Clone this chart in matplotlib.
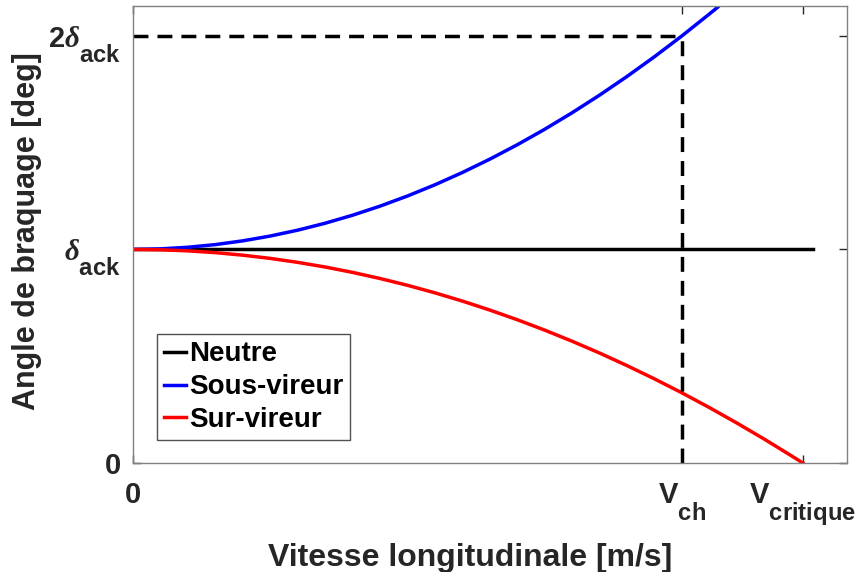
import matplotlib
matplotlib.use('Agg')
import matplotlib.pyplot as plt
import matplotlib._mathtext as mtext

plt.rcParams['font.family'] = ['Liberation Sans', 'DejaVu Sans']
plt.rcParams['font.weight'] = 'bold'
plt.rcParams['mathtext.fontset'] = 'custom'
plt.rcParams['mathtext.rm'] = 'Liberation Sans:bold'
plt.rcParams['mathtext.bf'] = 'Liberation Sans:bold'
plt.rcParams['mathtext.it'] = 'Liberation Serif:italic'
# bigger and lower subscripts, like the matlab tex labels
mtext.SHRINK_FACTOR = 0.82
mtext.FontConstantsBase.sub1 = 1.1
mtext.FontConstantsBase.subdrop = 1.1

# data (speed in m/s, angle in units of delta_ack)
v_ch = 20.0
v_crit = 24.4
v_neutre = [0, 24.76]
d_neutre = [1.0, 1.0]
v_sous = [0, 1, 2, 3, 4, 5, 6, 7, 8, 9, 10, 11, 12, 13, 14, 15, 16, 17, 18, 19, 20, 21, 21.3]
d_sous = [1.0, 1.0025, 1.01, 1.0225, 1.04, 1.0625, 1.09, 1.1225, 1.16, 1.2025, 1.25,
          1.3025, 1.36, 1.4225, 1.49, 1.5625, 1.64, 1.7225, 1.81, 1.9025, 2.0, 2.1025, 2.134]
v_sur = [0, 1, 2, 3, 4, 5, 6, 7, 8, 9, 10, 11, 12, 13, 14, 15, 16, 17, 18, 19, 20,
         21, 22, 23, 24, 24.4]
d_sur = [1.0, 0.9983, 0.9933, 0.9849, 0.9731, 0.958, 0.9395, 0.9177, 0.8925, 0.8639,
         0.832, 0.7968, 0.7581, 0.7161, 0.6708, 0.6221, 0.57, 0.5146, 0.4558, 0.3937,
         0.3282, 0.2593, 0.187, 0.1115, 0.0325, 0.0]
xticks = [0, v_ch, v_crit]
xlabels = ['0', r'$\mathbf{V_{ch}}$', r'$\mathbf{V_{critique}}$']
yticks = [0, 1, 2]
ylabels = ['0', r'$\delta_{\mathbf{ack}}$', r'$\mathbf{2}\delta_{\mathbf{ack}}$']

fig = plt.figure(figsize=(8.57, 5.72), dpi=100)
ax = fig.add_axes([0.155, 0.1906, 0.833, 0.799])

ax.plot(v_neutre, d_neutre, color='k', lw=2.5, label='Neutre')
ax.plot(v_sous, d_sous, color='b', lw=2.5, label='Sous-vireur')
ax.plot(v_sur, d_sur, color='r', lw=2.5, label='Sur-vireur')
ax.plot([0, v_ch], [2, 2], 'k--', lw=2.5, dashes=(4.3, 2.6))
ax.plot([v_ch, v_ch], [0, 2], 'k--', lw=2.5, dashes=(4.3, 2.6))

ax.set_xlim(0, 26)
ax.set_ylim(0, 2.14)
ax.set_xticks(xticks)
ax.set_xticklabels(xlabels)
ax.set_yticks(yticks)
ax.set_yticklabels(ylabels)
ax.tick_params(direction='in', length=6, width=1, colors='#262626', labelsize=21,
               top=True, right=True)
ax.tick_params(axis='x', pad=13)
ax.tick_params(axis='y', pad=8.5)
for s in ax.spines.values():
    s.set_color('#808080')
    s.set_linewidth(1)

ax.set_xlabel('Vitesse longitudinale [m/s]', fontsize=23, fontweight='bold', color='#262626')
ax.set_ylabel('Angle de braquage [deg]', fontsize=22, fontweight='bold', color='#262626')
ax.xaxis.set_label_coords(0.472, -0.175)
ax.yaxis.set_label_coords(-0.127, 0.508)

leg = ax.legend(loc='lower left', bbox_to_anchor=(0.034, 0.05), fontsize=20, frameon=True,
                fancybox=False, edgecolor='#262626', handlelength=0.8, handletextpad=0.1,
                borderaxespad=0, borderpad=0.25, labelspacing=0.25)
leg.get_frame().set_linewidth(1)
for t in leg.get_texts():
    t.set_fontweight('bold')

fig.savefig('out.png', dpi=100)
